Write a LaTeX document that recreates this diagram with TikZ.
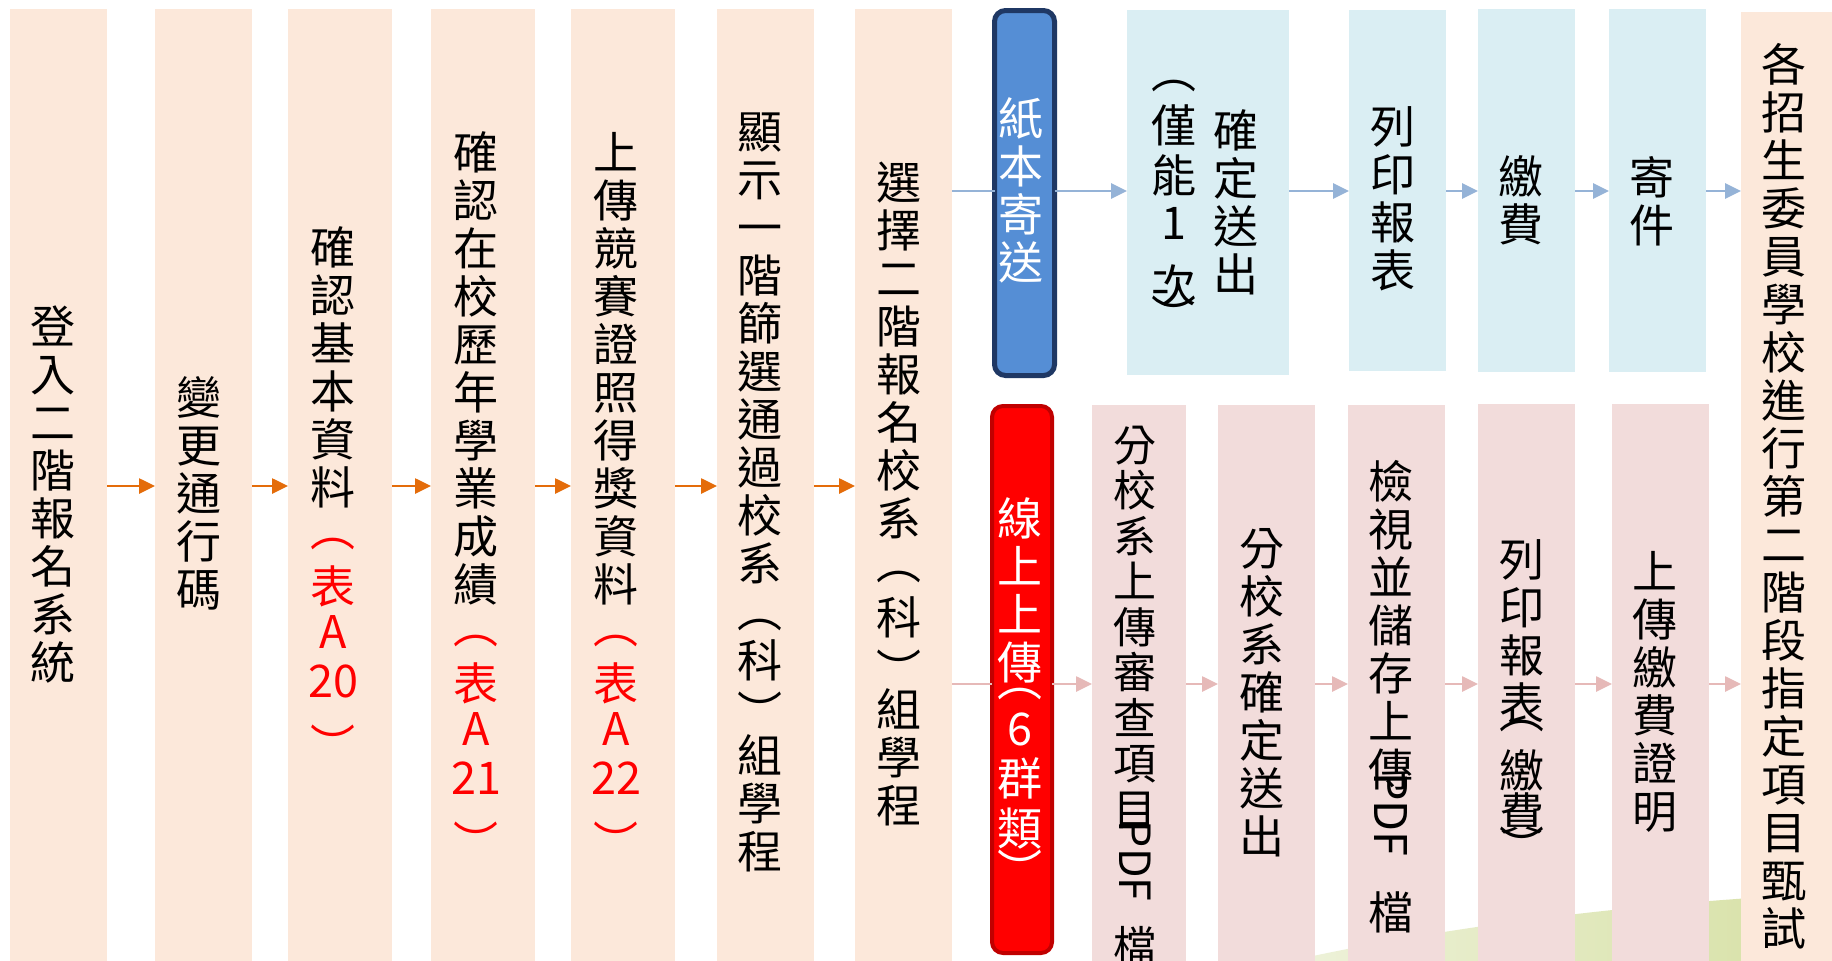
\documentclass[tikz,border=0pt]{standalone}
\usepackage{fontspec}
\usepackage{graphicx}
\setmainfont{Noto Sans CJK TC}
\usetikzlibrary{arrows.meta}
\definecolor{peach}{HTML}{FCE8DA}
\definecolor{lblue}{HTML}{DAEEF3}
\definecolor{lpink}{HTML}{F2DCDB}
\definecolor{oarr}{HTML}{E46C0A}
\definecolor{barr}{HTML}{95B3D7}
\definecolor{parr}{HTML}{E6B9B8}
\definecolor{bfill}{HTML}{558ED5}
\definecolor{bedge}{HTML}{1F3864}
\definecolor{redge}{HTML}{C00000}
\definecolor{gpale}{HTML}{EEF2DA}
\definecolor{gmid}{HTML}{C3D07E}
\definecolor{gright}{HTML}{D6E0A4}
\newcommand\redt[1]{\textcolor{red}{#1}}
\newcommand\pdfrot{\raisebox{40pt}{\rotatebox{-90}{PDF}}}
\tikzset{
  boxbase/.style={inner sep=0pt, outer sep=0pt, anchor=north west, draw=none},
  peachbox/.style={boxbase, fill=peach},
  bluebox/.style={boxbase, fill=lblue},
  pinkbox/.style={boxbase, fill=lpink},
  vt/.style={inner sep=0pt, outer sep=0pt, align=center, anchor=north, font=\fontsize{45}{48}\selectfont},
  conn/.style={line width=2.6pt, -{Triangle[length=16pt,width=15pt]}},
  oconn/.style={conn, draw=oarr},
  bconn/.style={conn, draw=barr},
  pconn/.style={conn, draw=parr},
  bplain/.style={line width=2.6pt, draw=barr},
  pplain/.style={line width=2.6pt, draw=parr},
}
\begin{document}
\begin{tikzpicture}[x=1pt,y=-1pt]
\useasboundingbox (0,0) rectangle (1832,961);
\clip (0,0) rectangle (1832,961);
\fill[white] (0,0) rectangle (1832,961);
% green background hill
\shade[left color=gpale, middle color=gmid, right color=gright]
  (1290,961) .. controls (1420,932) and (1600,905) .. (1832,893) -- (1832,961) -- cycle;

% first row columns
\node[peachbox, minimum width=97pt, minimum height=952pt] (c1) at (10,9) {};
\node[peachbox, minimum width=97pt, minimum height=952pt] (c2) at (155,9) {};
\node[peachbox, minimum width=104pt, minimum height=952pt] (c3) at (288,9) {};
\node[peachbox, minimum width=104pt, minimum height=952pt] (c4) at (431,9) {};
\node[peachbox, minimum width=104pt, minimum height=952pt] (c5) at (571,9) {};
\node[peachbox, minimum width=97pt, minimum height=952pt] (c6) at (717,9) {};
\node[peachbox, minimum width=97pt, minimum height=952pt] (c7) at (855,9) {};

% paper branch
\node[inner sep=0pt, outer sep=0pt, minimum width=60pt, minimum height=365pt,
      rounded corners=11pt, fill=bfill, draw=bedge, line width=5pt] (bb) at (1024.5,193) {};
\node[bluebox, minimum width=162pt, minimum height=365pt] (l1) at (1127,10) {};
\node[bluebox, minimum width=97pt, minimum height=361pt] (l2) at (1349,10) {};
\node[bluebox, minimum width=97pt, minimum height=363pt] (l3) at (1478,9) {};
\node[bluebox, minimum width=97pt, minimum height=363pt] (l4) at (1609,9) {};

% online branch
\node[inner sep=0pt, outer sep=0pt, minimum width=60pt, minimum height=547pt,
      rounded corners=11pt, fill=red, draw=redge, line width=4pt] (rb) at (1022,679.5) {};
\node[pinkbox, minimum width=94pt, minimum height=556pt] (p1) at (1092,405) {};
\node[pinkbox, minimum width=97pt, minimum height=556pt] (p2) at (1218,405) {};
\node[pinkbox, minimum width=97pt, minimum height=556pt] (p3) at (1348,405) {};
\node[pinkbox, minimum width=97pt, minimum height=557pt] (p4) at (1478,404) {};
\node[pinkbox, minimum width=97pt, minimum height=557pt] (p5) at (1612,404) {};

% final
\node[peachbox, minimum width=100pt, minimum height=949pt] (fin) at (1741,12) {};

% connectors
\coordinate (ya) at (0,486);
\coordinate (yb) at (0,191);
\coordinate (yc) at (0,684);
\draw[oconn] (c1.east |- ya) -- (c2.west |- ya);
\draw[oconn] (c2.east |- ya) -- (c3.west |- ya);
\draw[oconn] (c3.east |- ya) -- (c4.west |- ya);
\draw[oconn] (c4.east |- ya) -- (c5.west |- ya);
\draw[oconn] (c5.east |- ya) -- (c6.west |- ya);
\draw[oconn] (c6.east |- ya) -- (c7.west |- ya);

\draw[bplain] (c7.east |- yb) -- (bb.west |- yb);
\draw[bconn] (bb.east |- yb) -- (l1.west |- yb);
\draw[bconn] (l1.east |- yb) -- (l2.west |- yb);
\draw[bconn] (l2.east |- yb) -- (l3.west |- yb);
\draw[bconn] (l3.east |- yb) -- (l4.west |- yb);
\draw[bconn] (l4.east |- yb) -- (fin.west |- yb);

\draw[pplain] (c7.east |- yc) -- (rb.west |- yc);
\draw[pconn] (rb.east |- yc) -- (p1.west |- yc);
\draw[pconn] (p1.east |- yc) -- (p2.west |- yc);
\draw[pconn] (p2.east |- yc) -- (p3.west |- yc);
\draw[pconn] (p3.east |- yc) -- (p4.west |- yc);
\draw[pconn] (p4.east |- yc) -- (p5.west |- yc);
\draw[pconn] (p5.east |- yc) -- (fin.west |- yc);

% texts (anchored at the top of the first glyph)
\node[vt] (t1) at (53,306) {登\\入\\二\\階\\報\\名\\系\\統};
\node[vt] (t2) at (198.5,377) {變\\更\\通\\行\\碼};
\node[vt] (t3) at (333,227) {確\\認\\基\\本\\資\\料\\[-6pt]\redt{︵}\\[9pt]\redt{表}\\[-3pt]\redt{A}\\[1pt]\redt{20}\\[17pt]\redt{︶}};
\node[vt] (t4) at (476,132) {確\\認\\在\\校\\歷\\年\\學\\業\\成\\績\\[-6pt]\redt{︵}\\[9pt]\redt{表}\\[-3pt]\redt{A}\\[1pt]\redt{21}\\[17pt]\redt{︶}};
\node[vt] (t5) at (616,132) {上\\傳\\競\\賽\\證\\照\\得\\獎\\資\\料\\[-6pt]\redt{︵}\\[9pt]\redt{表}\\[-3pt]\redt{A}\\[1pt]\redt{22}\\[17pt]\redt{︶}};
\node[vt] (t6) at (760,113) {顯\\示\\一\\階\\篩\\選\\通\\過\\校\\系\\[-1pt]︵\\[2pt]科\\[4pt]︶\\[-5pt]組\\學\\程};
\node[vt] (t7) at (898.5,162) {選\\擇\\二\\階\\報\\名\\校\\系\\[-4pt]︵\\[7pt]科\\[5pt]︶\\[-9pt]組\\學\\程};

\node[vt, text=white] (tb) at (1021,98) {紙\\本\\寄\\送};
\node[vt] (tl1a) at (1236,110) {確\\定\\送\\出};
\node[vt] (tl1b) at (1174,80) {︵\\[6pt]僅\\[2pt]能\\[-1pt]1\\[15pt]次\\[-17pt]︶};
\node[vt] (tl2) at (1392.5,107) {列\\印\\報\\表};
\node[vt] (tl3) at (1521,156) {繳\\費};
\node[vt] (tl4) at (1652,156) {寄\\件};
\node[vt] (tfin) at (1784,43) {各\\招\\生\\委\\員\\學\\校\\進\\行\\第\\二\\階\\段\\指\\定\\項\\目\\甄\\試};

\node[vt, text=white] (tr) at (1020,498) {線\\上\\上\\傳\\[-31pt]︵\\[1pt]6\\[2pt]群\\[2pt]類\\[-6pt]︶};
\node[vt, font=\fontsize{43}{45.5}\selectfont] (tp1) at (1135,426) {分\\校\\系\\上\\傳\\審\\查\\項\\目\\[-10pt]\pdfrot\\[24pt]檔};
\node[vt] (tp2) at (1262,528) {分\\校\\系\\確\\定\\送\\出};
\node[vt] (tp3) at (1391,460) {檢\\視\\並\\儲\\存\\上\\傳\\[-22pt]\pdfrot\\[34pt]檔};
\node[vt] (tp4) at (1522,540) {列\\印\\報\\表\\[-40pt]︵\\[11pt]繳\\[-5pt]費\\[-14pt]︶};
\node[vt] (tp5) at (1655,551) {上\\傳\\繳\\費\\證\\明};
\end{tikzpicture}
\end{document}
